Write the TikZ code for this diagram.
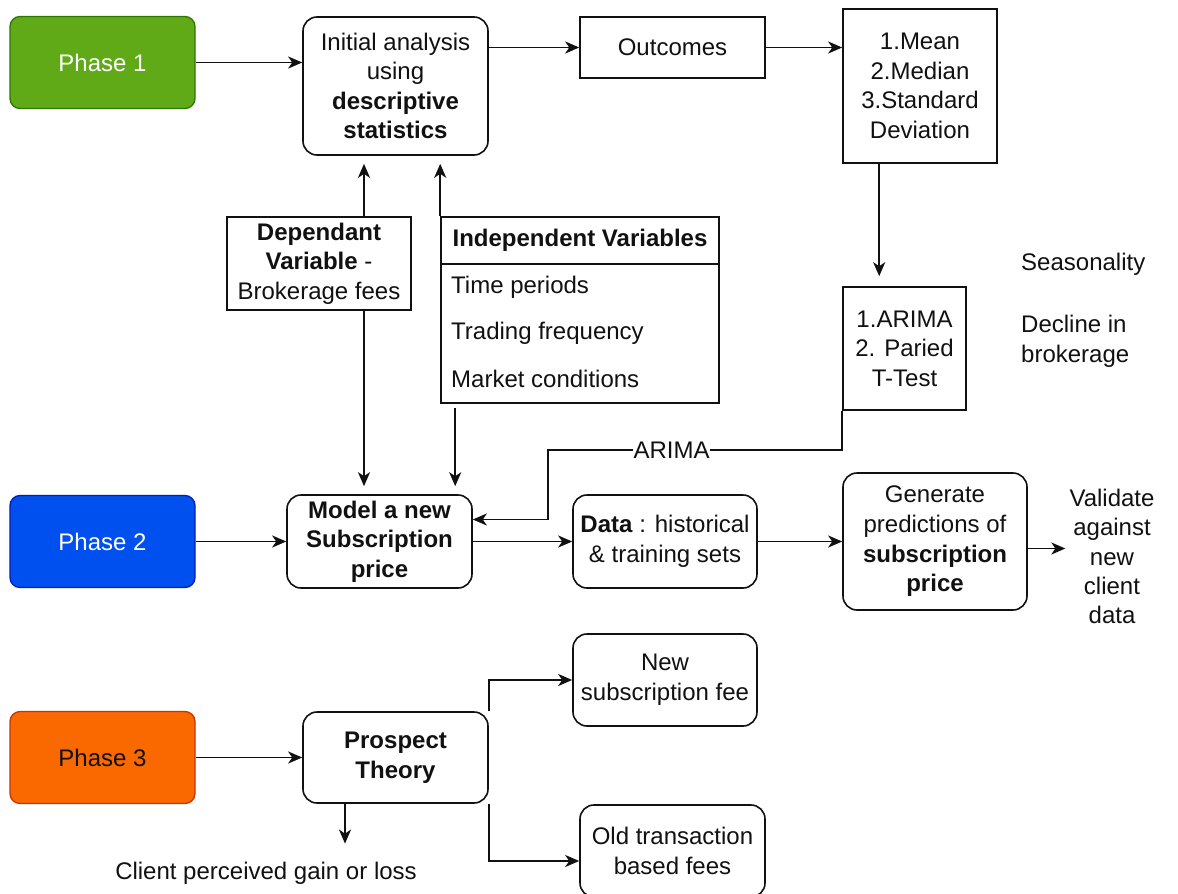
\documentclass[tikz,border=0pt]{standalone}
\usepackage{fontspec}
\setmainfont{Liberation Sans}
\usetikzlibrary{arrows.meta,calc}
\definecolor{gfill}{HTML}{60A917}\definecolor{gline}{HTML}{2D7600}
\definecolor{bfill}{HTML}{0050EF}\definecolor{bline}{HTML}{001DBC}
\definecolor{ofill}{HTML}{FA6800}\definecolor{oline}{HTML}{C73500}
\definecolor{ink}{HTML}{111111}
\tikzset{
  txt/.style={font=\fontsize{24}{29.6}\selectfont, text=ink, inner sep=0pt, align=center},
  box/.style={txt, draw=ink, line width=1.6pt, fill=white},
  rbox/.style={box, rounded corners=14pt},
  phasebox/.style={txt, line width=1.3pt, rounded corners=10pt,
                   minimum width=185pt, minimum height=92pt},
  sz/.style 2 args={minimum width=#1pt, minimum height=#2pt},
  arr/.style={draw=ink, line width=1.9pt, -{Stealth[length=14pt,width=12pt,inset=4pt]}},
  lbl/.style={txt, fill=white, inner xsep=0.5pt, inner ysep=2pt}
}
\begin{document}
\begin{tikzpicture}[x=1pt,y=-1pt]
\useasboundingbox[fill=white] (0,0) rectangle (1178,894);

% phase markers
\node[phasebox, fill=gfill, draw=gline, text=white] (p1) at (102.5,62.5) {Phase 1};
\node[phasebox, fill=bfill, draw=bline, text=white] (p2) at (102.5,541.5) {Phase 2};
\node[phasebox, fill=ofill, draw=oline] (p3) at (102.5,757.5) {Phase 3};

% phase 1 row
\node[rbox, sz={185}{138}] (initial) at (395.5,86)
  {Initial analysis\\using\\\textbf{descriptive}\\\textbf{statistics}};
\node[box, sz={185}{61}] (outcomes) at (672.5,47.5) {Outcomes};
\node[box, sz={154}{154}] (mean) at (920,86)
  {1.Mean\\2.Median\\3.Standard\\Deviation};
\node[box, sz={123}{123}] (arima) at (904.5,348.5)
  {1.ARIMA\\2. Paried\\T-Test};
\node[txt, anchor=west] (season) at (1021,264) {Seasonality};
\node[txt, anchor=west, align=left] (decline) at (1021,341) {Decline in\\brokerage};

% variables
\node[box, sz={184}{93}] (dep) at (319,263.5)
  {\textbf{Dependant}\\\textbf{Variable} -\\Brokerage fees};
\node[box, sz={278}{186}] (indep) at (580,310) {};
\node[txt, sz={278}{47}] (indephead) at (580,240.5) {\textbf{Independent Variables}};
\draw[draw=ink, line width=1.6pt] (indep.west |- indephead.south) -- (indep.east |- indephead.south);
\node[txt, anchor=west] (iv1) at (451,287) {Time periods};
\node[txt, anchor=west] (iv2) at (451,333) {Trading frequency};
\node[txt, anchor=west] (iv3) at (451,379) {Market conditions};

% phase 2 row
\node[rbox, sz={185}{93}] (model) at (379.5,541.5)
  {\textbf{Model a new}\\\textbf{Subscription}\\\textbf{price}};
\node[rbox, sz={184}{93}] (data) at (665,541.5)
  {\textbf{Data} : historical\\\& training sets};
\node[rbox, sz={184}{137}] (generate) at (935,541.5)
  {Generate\\predictions of\\\textbf{subscription}\\\textbf{price}};
\node[txt, font=\fontsize{24}{29.2}\selectfont] (validate) at (1112,556.5)
  {Validate\\against\\new\\client\\data};

% phase 3 row
\node[rbox, sz={185}{91}] (prospect) at (395.5,757.5) {\textbf{Prospect}\\\textbf{Theory}};
\node[rbox, sz={184}{92}] (newfee) at (665,680) {New\\subscription fee};
\node[rbox, sz={185}{92}] (oldfee) at (672.5,851) {Old transaction\\based fees};
\node[txt] (client) at (266,873) {Client perceived gain or loss};

% connectors
\draw[arr] (p1.east) -- (p1.east -| initial.west);
\draw[arr] (outcomes.west -| initial.east) -- (outcomes.west);
\draw[arr] (outcomes.east) -- (outcomes.east -| mean.west);
\draw[arr, shorten >=10pt] ([xshift=37pt]mean.south west) -- ([xshift=37pt]arima.north west);

\draw[arr, shorten >=8pt] ([xshift=45pt]dep.north) -- ([xshift=45pt]dep.north |- initial.south);
\draw[arr, shorten >=8pt] (indep.north west) -- (indep.north west |- initial.south);
\draw[arr, shorten >=8pt] ([xshift=45pt]dep.south) -- ([xshift=45pt]dep.south |- model.north);
\draw[arr, shorten <=4pt, shorten >=8pt] ([xshift=15pt]indep.south west) -- ([xshift=15pt]indep.south west |- model.north);

\coordinate (abend) at (548,450);
\coordinate (ain) at ([yshift=22pt]model.east);
\draw[arr] (arima.south west) |- node[lbl, pos=0.79] (arimalbl) {ARIMA} (abend) |- (ain);

\draw[arr] (p2.east) -- (p2.east -| model.west);
\draw[arr] (model.east) -- (model.east -| data.west);
\draw[arr] (data.east) -- (data.east -| generate.west);
\draw[arr, shorten >=4pt] ([yshift=-7pt]generate.east) -- ([yshift=-7pt]generate.east -| validate.west);

\draw[arr] (p3.east) -- (p3.east -| prospect.west);
\draw[arr] (prospect.north east) |- (newfee.west);
\draw[arr] (prospect.south east) |- ([yshift=-10pt]oldfee.west);
\draw[arr, shorten >=18pt] ([xshift=-50.5pt]prospect.south) -- ([xshift=-50.5pt]prospect.south |- client.north);
\end{tikzpicture}
\end{document}
